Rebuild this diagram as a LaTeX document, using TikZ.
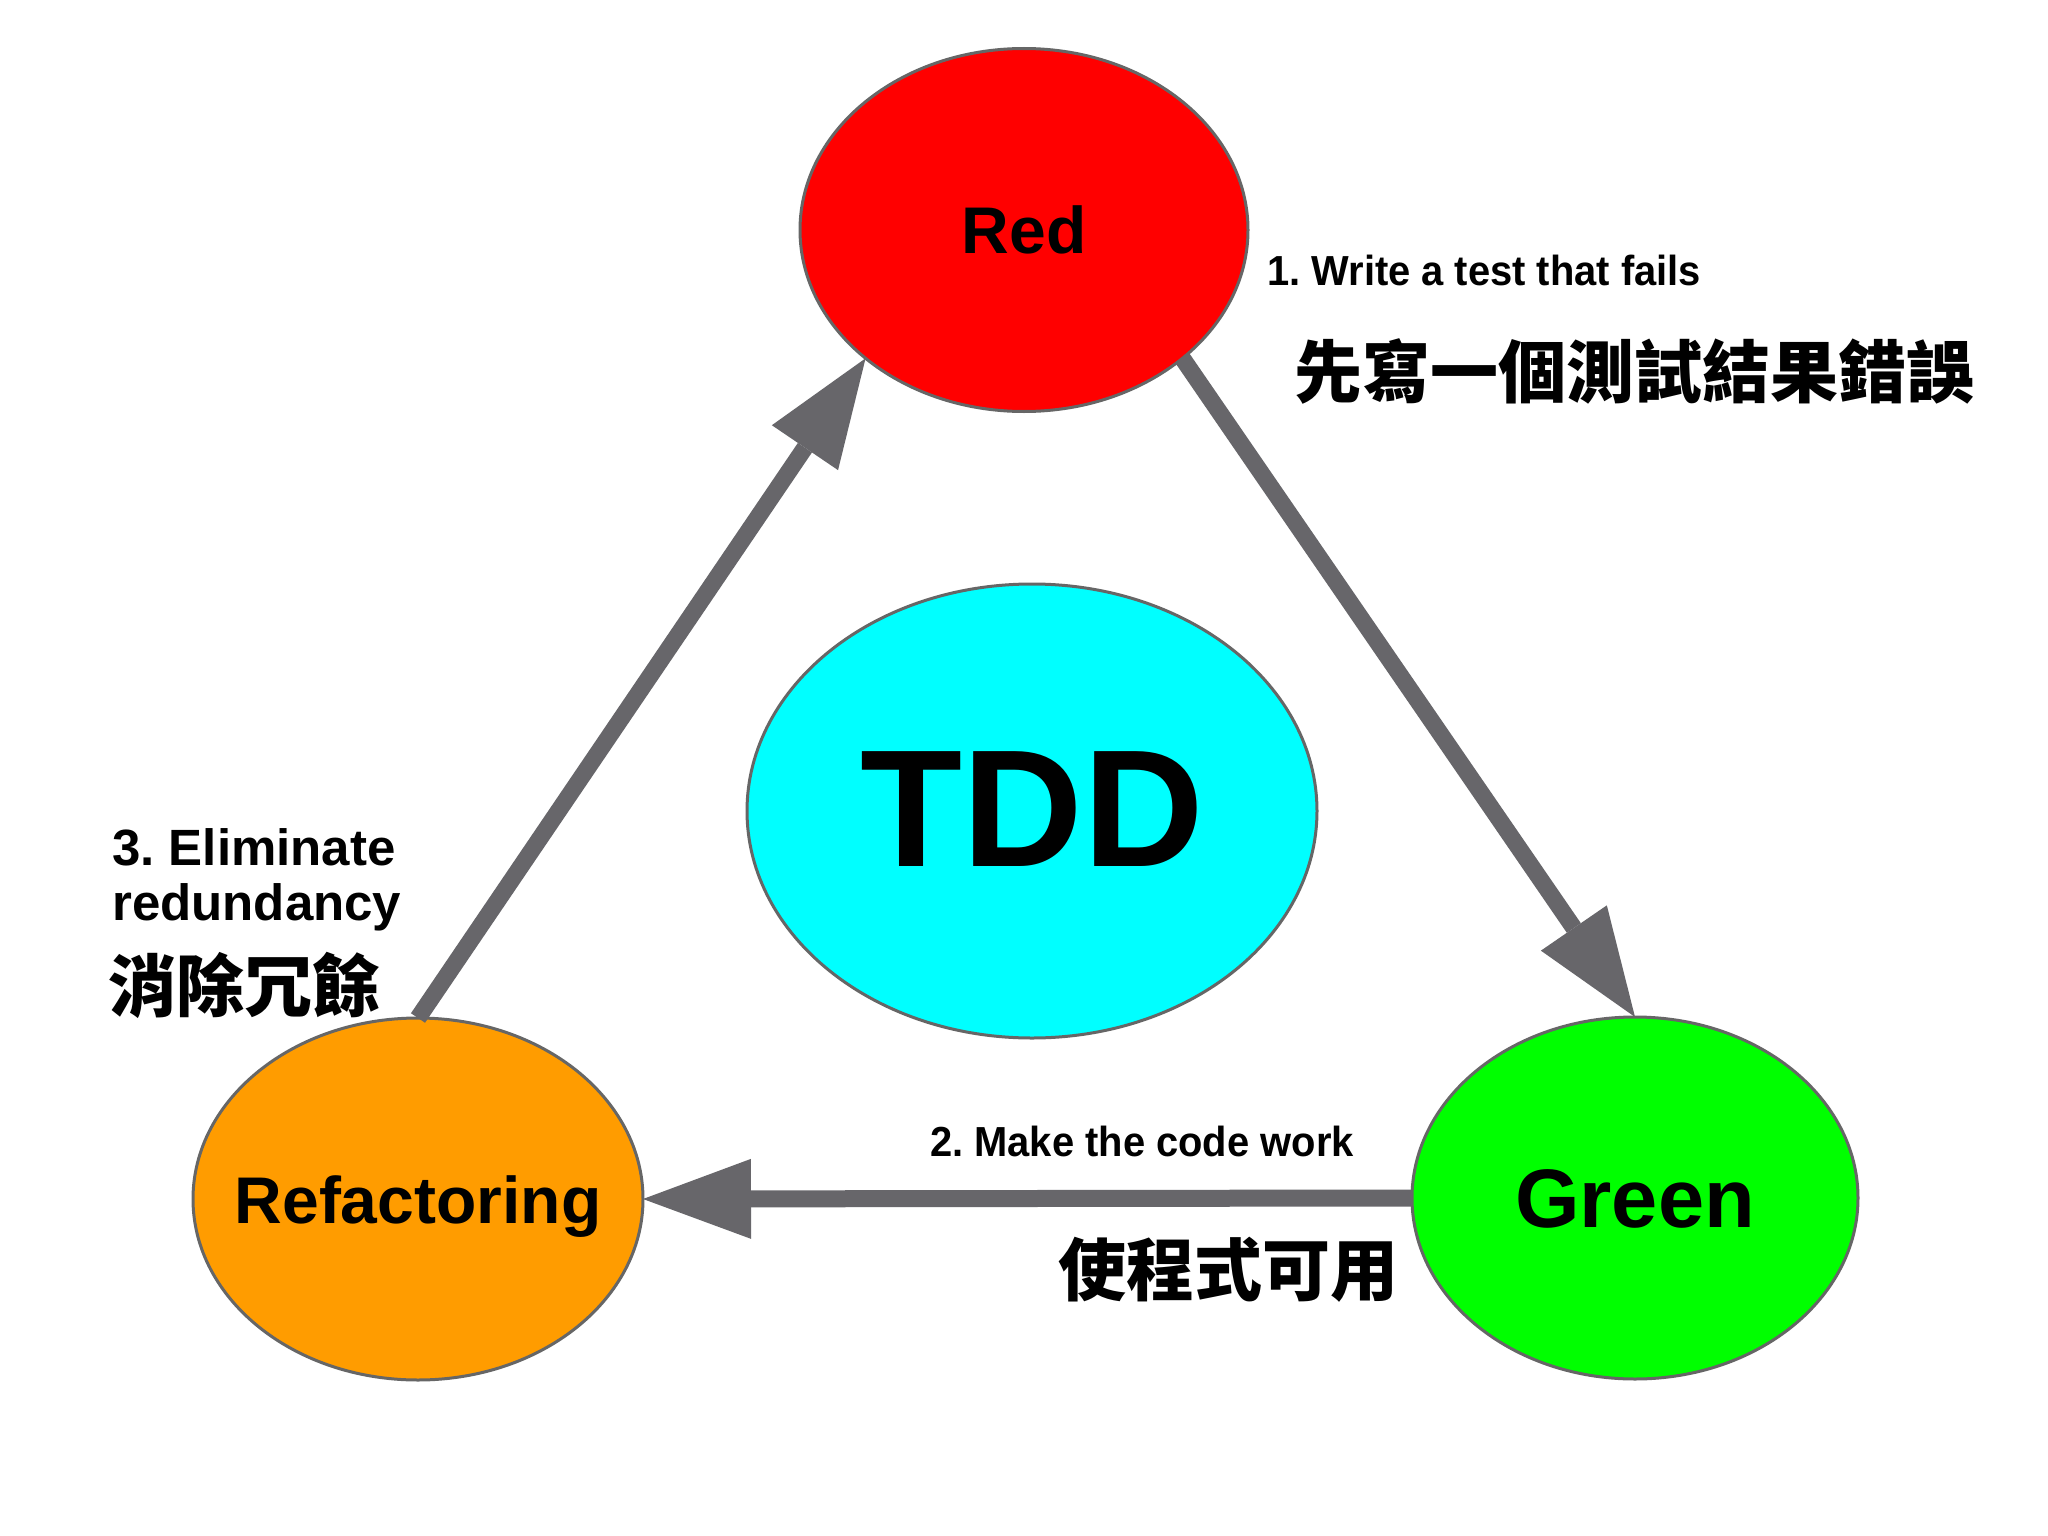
\documentclass[tikz,border=0pt]{standalone}
\usepackage{graphicx}
\usepackage{fontspec}
\setmainfont{Liberation Sans}
\newfontfamily\cjk{Noto Sans CJK TC Black}
\usetikzlibrary{shapes.geometric,arrows.meta}
\frenchspacing
\definecolor{rimgray}{HTML}{666666}
\definecolor{arrowgray}{HTML}{67666A}
\definecolor{redfill}{HTML}{FF0000}
\definecolor{cyanfill}{HTML}{00FFFF}
\definecolor{orangefill}{HTML}{FF9C00}
\definecolor{greenfill}{HTML}{00FF00}
\begin{document}
\begin{tikzpicture}[x=1pt,y=-1pt,
  blob/.style={ellipse, draw=rimgray, line width=3pt, inner sep=0pt, outer sep=0pt, text depth=0pt, font=\bfseries},
  flow/.style={draw=arrowgray, line width=17pt, -{Triangle[length=108pt,width=80pt,line width=0pt]}},
  en/.style={font=\bfseries\fontsize{42}{48}\selectfont, inner sep=0pt, anchor=base west},
  enbig/.style={font=\bfseries\fontsize{51}{55}\selectfont, inner sep=0pt, anchor=base west},
  zh/.style={font=\cjk\fontsize{68}{68}\selectfont, inner sep=0pt, anchor=west}]
\useasboundingbox[fill=white] (0,0) rectangle (2048,1536);
\node[blob, fill=redfill, minimum width=448pt, minimum height=363pt, text height=47pt] (red) at (1024,230) {\makebox[0pt]{\fontsize{66}{66}\selectfont Red}};
\node[blob, fill=cyanfill, minimum width=570pt, minimum height=454pt, text height=110pt] (tdd) at (1032,811) {\makebox[0pt]{\fontsize{167}{167}\selectfont TDD}};
\node[blob, fill=orangefill, minimum width=450pt, minimum height=362pt, text height=48pt] (refac) at (418,1199) {\makebox[0pt]{\fontsize{66}{66}\selectfont Refactoring}};
\node[blob, fill=greenfill, minimum width=446pt, minimum height=362pt, text height=59pt] (green) at (1635,1198) {\makebox[0pt]{\fontsize{83}{83}\selectfont Green}};
\draw[flow] (refac.north) -- (red.219);
\draw[flow] (red.321) -- (green.north);
\draw[flow] (green.west) -- (refac.east);
\node[en] (t1en) at (1267,285) {\scalebox{0.95}[1]{1. Write a test that fails}};
\node[zh] (t1zh) at (1294,371) {先寫一個測試結果錯誤};
\node[en] (t2en) at (930,1156) {\scalebox{0.95}[1]{2. Make the code work}};
\node[zh] (t2zh) at (1058,1270) {使程式可用};
\node[enbig] (t3a) at (112,865) {3. Eliminate};
\node[enbig] (t3b) at (112,920) {redundancy};
\node[zh] (t3zh) at (108,985) {消除冗餘};
\end{tikzpicture}
\end{document}
